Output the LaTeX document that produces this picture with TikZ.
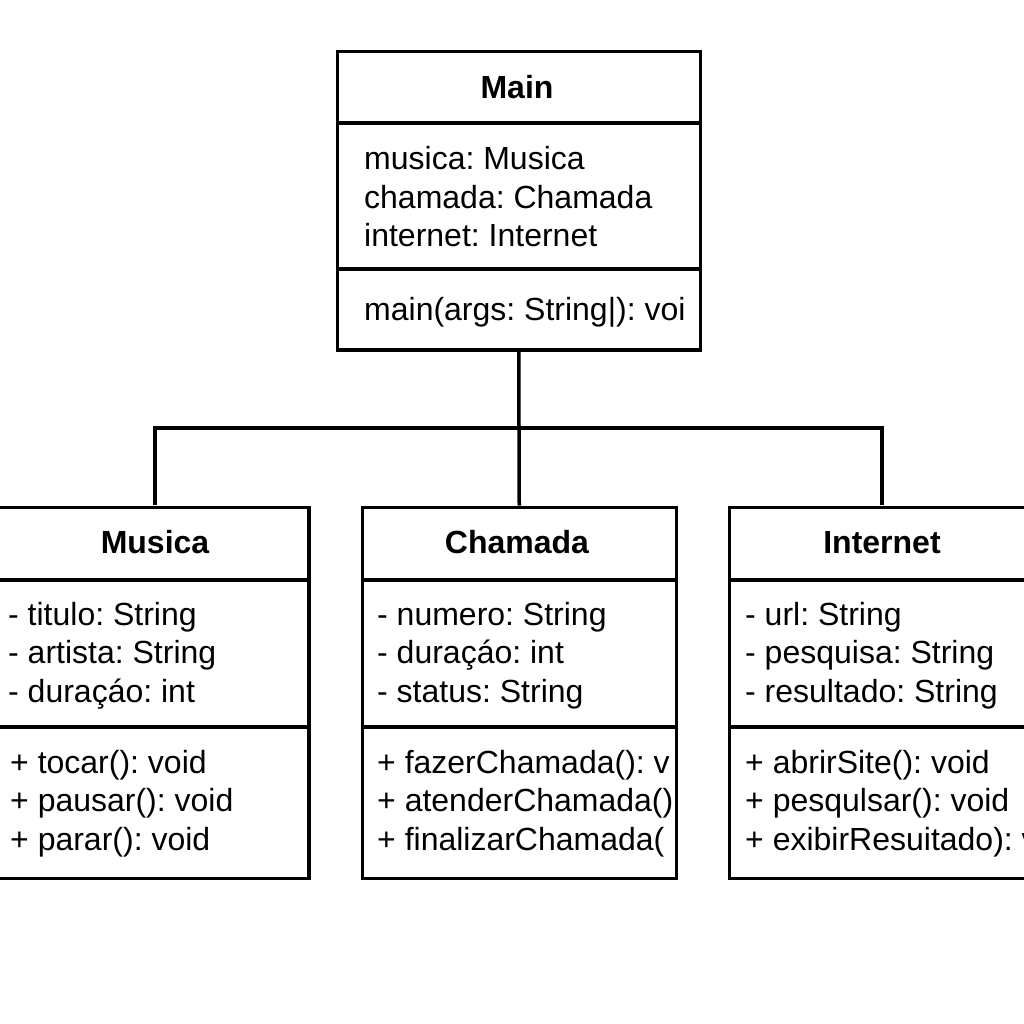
\documentclass[tikz,border=0pt]{standalone}
\usepackage{fontspec}
\setmainfont{Liberation Sans}
\frenchspacing
\begin{document}
\begin{tikzpicture}[x=1pt,y=-1pt,
  box/.style={draw,line width=3.5pt,rectangle,inner sep=0pt,anchor=north west},
  sep/.style={line width=3.5pt},
  link/.style={line width=3.5pt},
  txt/.style={anchor=base west,inner sep=0pt,font=\fontsize{32}{38}\selectfont},
  ttl/.style={anchor=base,inner sep=0pt,font=\fontsize{32}{38}\selectfont\bfseries}]
\useasboundingbox (0,0) rectangle (1024,1024);
\clip (0,0) rectangle (1024,1024);
\fill[white] (0,0) rectangle (1024,1024);

% Main
\node[box,minimum width=363pt,minimum height=298pt] (main) at (335.5,50) {};
\draw[sep] (main.west |- 0,123) -- (main.east |- 0,123);
\draw[sep] (main.west |- 0,269) -- (main.east |- 0,269);
\node[ttl] (mainT) at (517,99) {Main};
\node[txt] (mainA1) at (364,170) {musica: Musica};
\node[txt] (mainA2) at (364,208.5) {chamada: Chamada};
\node[txt] (mainA3) at (364,247) {internet: Internet};
\node[txt] (mainM1) at (364,320) {main(args: String|): voi};

% Musica
\node[box,minimum width=319pt,minimum height=371pt] (musica) at (-12,505.5) {};
\draw[sep] (musica.west |- 0,580) -- (musica.east |- 0,580);
\draw[sep] (musica.west |- 0,727) -- (musica.east |- 0,727);
\node[ttl] (musicaT) at (155,553) {Musica};
\node[txt] (musicaA1) at (8,625) {- titulo: String};
\node[txt] (musicaA2) at (8,663.5) {- artista: String};
\node[txt] (musicaA3) at (8,702) {- duraçáo: int};
\node[txt] (musicaM1) at (10,773) {+ tocar(): void};
\node[txt] (musicaM2) at (10,811.5) {+ pausar(): void};
\node[txt] (musicaM3) at (10,850) {+ parar(): void};

% Chamada
\node[box,minimum width=314pt,minimum height=371pt] (chamada) at (360.5,505.5) {};
\draw[sep] (chamada.west |- 0,580) -- (chamada.east |- 0,580);
\draw[sep] (chamada.west |- 0,727) -- (chamada.east |- 0,727);
\node[ttl] (chamadaT) at (517,553) {Chamada};
\node[txt] (chamadaA1) at (377,625) {- numero: String};
\node[txt] (chamadaA2) at (377,663.5) {- duraçáo: int};
\node[txt] (chamadaA3) at (377,702) {- status: String};
\node[txt] (chamadaM1) at (377,773) {+ fazerChamada(): v};
\node[txt] (chamadaM2) at (377,811.5) {+ atenderChamada()};
\node[txt] (chamadaM3) at (377,850) {+ finalizarChamada(};

% Internet
\node[box,minimum width=320pt,minimum height=371pt] (internet) at (727.5,505.5) {};
\draw[sep] (internet.west |- 0,580) -- (internet.east |- 0,580);
\draw[sep] (internet.west |- 0,727) -- (internet.east |- 0,727);
\node[ttl] (internetT) at (882,553) {Internet};
\node[txt] (internetA1) at (745,625) {- url: String};
\node[txt] (internetA2) at (745,663.5) {- pesquisa: String};
\node[txt] (internetA3) at (745,702) {- resultado: String};
\node[txt] (internetM1) at (745,773) {+ abrirSite(): void};
\node[txt] (internetM2) at (745,811.5) {+ pesqulsar(): void};
\node[txt] (internetM3) at (745,850) {+ exibirResuitado): v};

% connectors
\coordinate (bus) at (517.5,428);
\draw[link] (main.south) -- (chamada.north);
\draw[link] (bus) -- (155,428) -- (155,505);
\draw[link] (bus) -- (882,428) -- (882,505);
\end{tikzpicture}
\end{document}
